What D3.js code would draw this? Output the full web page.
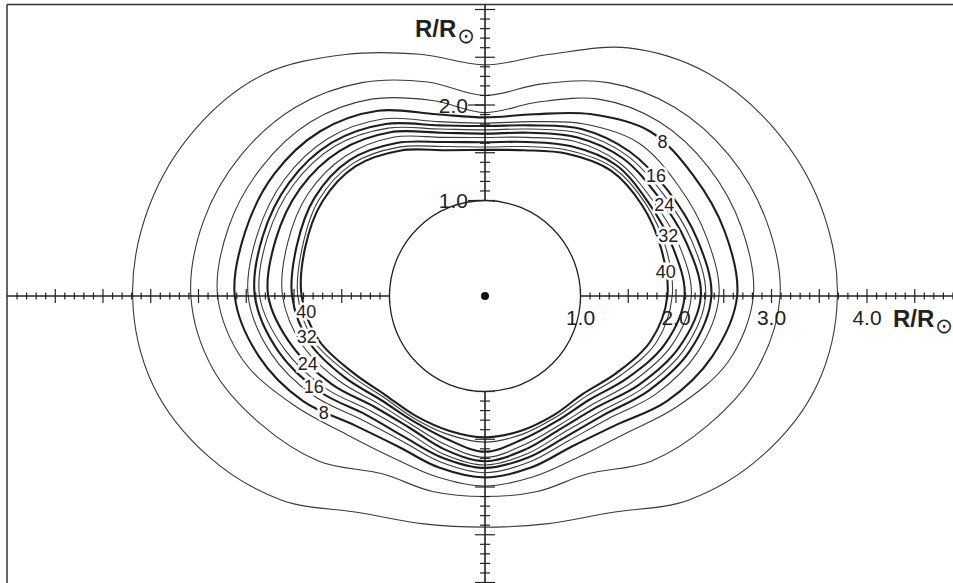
<!DOCTYPE html>
<html><head><meta charset="utf-8">
<script src="https://cdn.jsdelivr.net/npm/d3@7"></script>
<style>
body{margin:0;background:#fff;}
svg{display:block;}
text{font-family:"Liberation Sans",Arial,Helvetica,sans-serif;fill:#222;}
</style></head><body>
<svg id="chart" width="953" height="583"></svg>
<script>
// polar sample angles (degrees, counter-clockwise from +x axis)
const angles = [0,15,30,45,60,75,90,105,120,135,150,165,180,195,210,225,240,255,270,285,300,315,330,345];
// contour levels (outer -> inner)
const levels = [1,2,4,8,12,16,20,24,28,32,36,40];
const labeledLevels = [8,16,24,32,40];
// radii in R/Rsun for each contour at the sample angles
const c1  = [3.69,3.64,3.50,3.30,3.00,2.62,2.42,2.62,2.92,3.28,3.50,3.64,3.69,3.60,3.35,3.02,2.62,2.47,2.42,2.47,2.62,3.02,3.35,3.60];
const c2  = [3.09,3.05,2.95,2.80,2.58,2.30,2.10,2.32,2.58,2.80,2.95,3.05,3.08,2.95,2.70,2.45,2.15,2.12,2.10,2.12,2.15,2.45,2.70,2.95];
const c4  = [2.81,2.78,2.70,2.58,2.38,2.10,1.92,2.12,2.38,2.58,2.70,2.78,2.80,2.62,2.30,2.05,1.95,1.96,1.99,1.96,1.95,2.05,2.32,2.64];
const c8  = [2.64,2.60,2.52,2.44,2.20,1.97,1.87,1.97,2.24,2.44,2.55,2.60,2.62,2.45,2.20,1.92,1.82,1.86,1.90,1.86,1.82,1.92,2.20,2.46];
const c12 = [2.45,2.40,2.33,2.27,2.08,1.89,1.81,1.89,2.14,2.33,2.43,2.47,2.48,2.32,2.08,1.83,1.75,1.80,1.85,1.80,1.75,1.82,2.06,2.30];
const c16 = [2.37,2.30,2.21,2.14,2.02,1.85,1.78,1.85,2.08,2.27,2.37,2.41,2.41,2.24,2.00,1.76,1.70,1.75,1.80,1.75,1.70,1.76,1.98,2.22];
const c20 = [2.31,2.24,2.15,2.09,1.97,1.81,1.74,1.81,2.03,2.22,2.32,2.36,2.36,2.17,1.93,1.70,1.64,1.71,1.77,1.71,1.65,1.71,1.92,2.16];
const c24 = [2.26,2.18,2.09,2.04,1.92,1.77,1.70,1.77,1.98,2.15,2.24,2.27,2.27,2.08,1.85,1.64,1.59,1.66,1.73,1.66,1.60,1.65,1.86,2.10];
const c28 = [2.16,2.10,2.02,1.98,1.87,1.72,1.66,1.72,1.92,2.07,2.14,2.14,2.12,1.98,1.77,1.59,1.55,1.61,1.69,1.61,1.56,1.60,1.79,2.02];
const c32 = [2.09,2.03,1.97,1.94,1.81,1.67,1.61,1.67,1.85,2.01,2.06,2.04,2.02,1.90,1.70,1.54,1.51,1.55,1.63,1.55,1.51,1.54,1.72,1.95];
const c36 = [1.96,1.96,1.94,1.90,1.76,1.62,1.56,1.62,1.80,1.96,2.01,1.98,1.96,1.85,1.64,1.50,1.48,1.50,1.53,1.50,1.47,1.49,1.65,1.86];
const c40 = [1.91,1.91,1.90,1.86,1.72,1.58,1.53,1.58,1.76,1.92,1.97,1.95,1.92,1.80,1.60,1.47,1.45,1.46,1.48,1.46,1.44,1.45,1.60,1.80];
// label angles (degrees) for labelled contours, right and left groups
const labelAnglesRight = [41,35,27,18,7.6];
const labelAnglesLeft  = [216,208,201,193,185];
// axis tick labels
const xTickLabels = ["1.0","2.0","3.0","4.0"];
const yTickLabels = ["1.0","2.0"];
const sunRadius = 1.0;

const radii = [c1,c2,c4,c8,c12,c16,c20,c24,c28,c32,c36,c40];
const contours = levels.map((lv,i)=>({level:lv, r:radii[i]}));

const W=953,H=583, cx=485, cy=296, k=95.5;
const x = d3.scaleLinear().domain([-5.2,5.2]).range([cx-5.2*k, cx+5.2*k]);
const y = d3.scaleLinear().domain([-5.2,5.2]).range([cy+5.2*k, cy-5.2*k]);
const rad = d=>d*Math.PI/180;

const svg = d3.select("#chart");
svg.append("rect").attr("width",W).attr("height",H).attr("fill","#fff");
// frame (top and left edges visible)
svg.append("line").attr("x1",7).attr("x2",W).attr("y1",4.5).attr("y2",4.5).attr("stroke","#333").attr("stroke-width",1.5);
svg.append("line").attr("x1",7).attr("x2",7).attr("y1",4.5).attr("y2",H).attr("stroke","#333").attr("stroke-width",1.5);

const lineGen = d3.line().curve(d3.curveCatmullRomClosed.alpha(0.5));
const g = svg.append("g");
contours.forEach(c=>{
  const pts = angles.map((a,i)=>[x(c.r[i]*Math.cos(rad(a))), y(c.r[i]*Math.sin(rad(a)))]);
  const thick = labeledLevels.includes(c.level);
  g.append("path").attr("d",lineGen(pts)).attr("fill","none")
   .attr("stroke", thick?"#1e1e1e":"#3a3a3a").attr("stroke-width", thick?2.1:1.1);
});

// axes
const axisColor="#222";
svg.append("line").attr("x1",7).attr("x2",W).attr("y1",y(0)).attr("y2",y(0)).attr("stroke",axisColor).attr("stroke-width",1.6);
svg.append("line").attr("x1",x(0)).attr("x2",x(0)).attr("y1",4.5).attr("y2",H).attr("stroke",axisColor).attr("stroke-width",1.6);
const ticks = d3.range(10,50).map(v=>v/10);
const isMajor = v=>Math.abs(v*2-Math.round(v*2))<1e-6;
[-1,1].forEach(s=>{
  ticks.forEach(v=>{
    const xv = x(s*v);
    if (xv>=8 && xv<=W){
      const h = isMajor(v)?7:3.5;
      svg.append("line").attr("x1",xv).attr("x2",xv).attr("y1",y(0)-h).attr("y2",y(0)+h).attr("stroke",axisColor).attr("stroke-width",1.2);
    }
    const yv = y(s*v);
    if (yv>=6 && yv<=H){
      const h = isMajor(v)?10:5;
      svg.append("line").attr("x1",x(0)-h).attr("x2",x(0)+h).attr("y1",yv).attr("y2",yv).attr("stroke",axisColor).attr("stroke-width",1.2);
    }
  });
});

// sun disk
svg.append("circle").attr("cx",x(0)).attr("cy",y(0)).attr("r",x(sunRadius)-x(0)).attr("fill","#fff").attr("stroke","#222").attr("stroke-width",1.3);
svg.append("circle").attr("cx",x(0)).attr("cy",y(0)).attr("r",4).attr("fill","#111");

// x tick labels
xTickLabels.forEach(t=>{
  svg.append("text").attr("x",x(+t)).attr("y",y(0)+29).attr("text-anchor","middle")
    .attr("font-size",21).text(t);
});
// y tick labels with leader dash
yTickLabels.forEach(t=>{
  const yy=y(+t);
  svg.append("line").attr("x1",x(0)-17).attr("x2",x(0)).attr("y1",yy).attr("y2",yy).attr("stroke",axisColor).attr("stroke-width",1.2);
  svg.append("text").attr("x",x(0)-17).attr("y",yy+7.5).attr("text-anchor","end")
    .attr("font-size",21).text(t);
});
// axis titles
function title(xp,yp,anchor){
  const t = svg.append("text").attr("x",xp).attr("y",yp).attr("text-anchor",anchor)
    .attr("font-size",24).attr("font-weight","bold");
  t.append("tspan").text("R/R");
  t.append("tspan").attr("font-size",21).attr("font-weight","normal").attr("dy",6).attr("dx",1)
    .style("font-family","DejaVu Sans").text("\u2299");
}
title(x(0)-70,y(0)-259,"start");
title(893,y(0)+31,"start");

// contour labels
const lg = svg.append("g");
function radiusAt(c, a){
  a = ((a%360)+360)%360;
  const i = Math.floor(a/15), j=(i+1)%angles.length, f=(a-angles[i])/15;
  return c.r[i]*(1-f)+c.r[j]*f;
}
labeledLevels.forEach((lv,i)=>{
  const c = contours.find(d=>d.level===lv);
  [labelAnglesRight[i], labelAnglesLeft[i]].forEach(a=>{
    const r = radiusAt(c,a);
    lg.append("text").attr("x",x(r*Math.cos(rad(a)))).attr("y",y(r*Math.sin(rad(a)))+6)
      .attr("text-anchor","middle").attr("font-size",18)
      .attr("stroke","#fff").attr("stroke-width",5).attr("paint-order","stroke")
      .text(lv);
  });
});
</script>
</body></html>
